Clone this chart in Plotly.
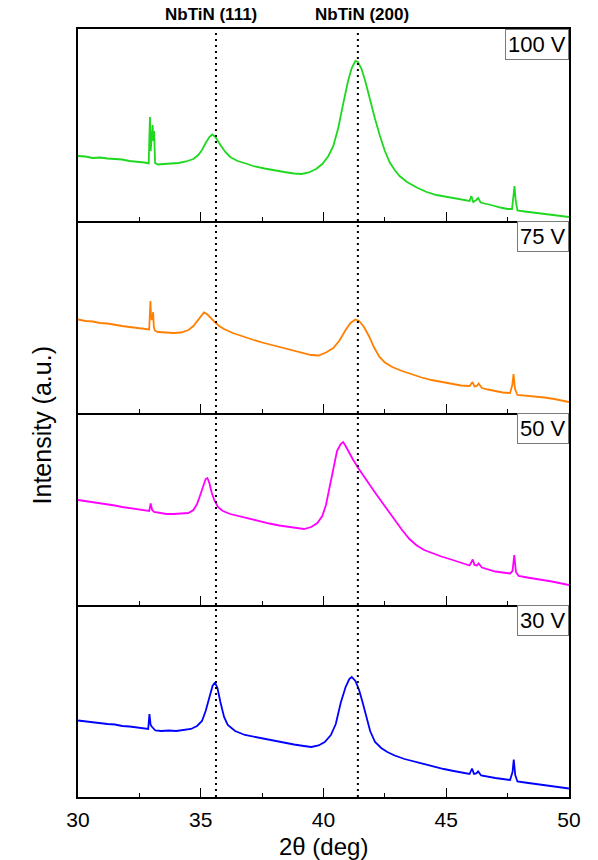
import plotly.graph_objects as go
from plotly.subplots import make_subplots

# ---------------- data (intensity, arbitrary units) ----------------
x_100 = [30.0, 30.3, 30.6, 30.9, 31.2, 31.5, 31.8, 32.1, 32.4, 32.7, 32.88, 32.93, 32.96, 33.0, 33.04,
         33.07, 33.1, 33.14, 33.25, 33.5, 33.8, 34.1, 34.4, 34.7, 34.9, 35.05, 35.2, 35.35, 35.47, 35.6,
         35.8, 36.0, 36.2, 36.5, 36.9, 37.2, 37.6, 38.0, 38.4, 38.8, 39.1, 39.4, 39.7, 39.95, 40.2, 40.4,
         40.6, 40.8, 41.0, 41.15, 41.3, 41.4, 41.55, 41.7, 41.88, 42.1, 42.3, 42.5, 42.7, 42.9, 43.1, 43.4,
         43.8, 44.2, 44.6, 45.0, 45.4, 45.8, 45.95, 46.02, 46.1, 46.22, 46.3, 46.4, 46.6, 46.9, 47.2, 47.5,
         47.68, 47.74, 47.78, 47.83, 47.9, 48.2, 48.5, 48.8, 49.1, 49.4, 49.7, 50.0]
i_100 = [65, 64.5, 63, 63.5, 62.5, 62, 61.5, 60, 59.5, 58.5, 57.5, 104, 70, 88, 96,
         80, 90, 58, 56.5, 57, 57.5, 58, 59.5, 62, 66, 71, 78, 84, 86.5, 84,
         76, 69, 64, 60, 57, 54.5, 52.5, 50.5, 49, 47.5, 47, 48.5, 52, 57, 65, 75,
         93, 117, 140, 153, 160, 159, 152, 140, 122, 102, 85, 70, 58.5, 51, 45, 39,
         33.5, 29, 26, 24, 22, 20, 20, 25, 19, 21, 23, 18.5, 17, 15.5, 13.5, 12,
         12, 28, 35, 20, 10.5, 9.5, 8.5, 7.5, 6.5, 6, 5, 4]

x_75 = [30.0, 30.3, 30.6, 30.9, 31.2, 31.5, 31.8, 32.1, 32.4, 32.7, 32.9, 32.95, 32.98, 33.02, 33.06,
        33.09, 33.13, 33.25, 33.6, 33.9, 34.2, 34.5, 34.7, 34.9, 35.0, 35.13, 35.25, 35.4, 35.55, 35.75,
        35.95, 36.3, 36.7, 37.1, 37.5, 37.9, 38.3, 38.7, 39.1, 39.5, 39.8, 40.1, 40.4, 40.65, 40.9, 41.1,
        41.3, 41.45, 41.65, 41.87, 42.05, 42.28, 42.5, 42.8, 43.2, 43.6, 44.0, 44.4, 44.8, 45.2, 45.6,
        45.95, 46.07, 46.15, 46.25, 46.32, 46.45, 46.7, 47.0, 47.3, 47.6, 47.69, 47.74, 47.8, 47.9, 48.2,
        48.6, 49.0, 49.4, 49.7, 50.0]
i_75 = [93.5, 92, 91.5, 90, 89.5, 88, 87, 86, 85, 84, 83.5, 112, 95, 93, 101,
        86, 82.5, 81, 80.5, 80, 80.5, 83, 87, 93, 97, 100.5, 99, 95, 91.5, 87,
        84, 80, 76.5, 73.5, 70.5, 68, 65.5, 63, 60.5, 58, 57.5, 60.5, 65, 72.5, 83, 90,
        93.5, 92, 86, 76, 66, 56, 50.5, 46, 42, 38.5, 35.5, 33, 31, 29, 27.5,
        27, 31, 26.5, 27, 29.5, 25, 23.5, 22, 20.5, 20, 28, 39, 24, 18, 17.5,
        16.5, 15.5, 14, 12.5, 11]

x_50 = [30.0, 30.3, 30.6, 30.9, 31.2, 31.5, 31.8, 32.1, 32.4, 32.7, 32.9, 32.96, 33.02, 33.1, 33.3,
        33.6, 33.9, 34.2, 34.5, 34.7, 34.85, 34.98, 35.1, 35.2, 35.27, 35.35, 35.45, 35.55, 35.7, 35.9,
        36.2, 36.6, 37.0, 37.4, 37.8, 38.2, 38.6, 38.9, 39.2, 39.5, 39.75, 39.95, 40.1, 40.25, 40.4,
        40.55, 40.7, 40.8, 40.9, 41.05, 41.2, 41.4, 41.6, 41.8, 42.0, 42.2, 42.45, 42.7, 42.95, 43.2,
        43.5, 43.8, 44.1, 44.4, 44.8, 45.2, 45.6, 45.95, 46.08, 46.15, 46.25, 46.32, 46.45, 46.7, 47.0,
        47.3, 47.6, 47.7, 47.77, 47.84, 47.95, 48.3, 48.6, 49.0, 49.3, 49.6, 50.0]
i_50 = [105, 104, 102.5, 101.5, 100.5, 99.5, 98, 97, 95.5, 94.5, 94, 101.5, 95, 93, 92,
        91, 91, 91.5, 92, 95, 101, 110, 120, 126, 127, 122, 112, 105, 98, 94,
        91, 88.5, 86.5, 84, 81.5, 79.5, 78, 76.5, 76, 78, 82, 89, 100, 118, 138,
        154, 161, 163, 159, 152, 145.5, 137.5, 130, 123, 116, 109, 100.5, 92, 83, 75,
        66, 59.5, 55, 52, 48.5, 45.5, 42, 39.5, 45.5, 40, 39.5, 41.5, 37.5, 35.5, 33.5,
        32.5, 31.5, 34, 50, 33, 29, 27.5, 26.5, 25, 23.5, 22, 20]

x_30 = [30.0, 30.3, 30.6, 30.9, 31.2, 31.5, 31.8, 32.1, 32.4, 32.7, 32.86, 32.91, 32.96, 33.02, 33.15,
        33.4, 33.7, 34.0, 34.3, 34.6, 34.85, 35.05, 35.2, 35.35, 35.48, 35.58, 35.68, 35.8, 35.95, 36.1,
        36.4, 36.8, 37.2, 37.6, 38.0, 38.4, 38.8, 39.2, 39.5, 39.8, 40.05, 40.3, 40.5, 40.7, 40.9, 41.05,
        41.15, 41.3, 41.45, 41.6, 41.75, 41.9, 42.1, 42.35, 42.6, 42.9, 43.3, 43.7, 44.1, 44.5, 44.9,
        45.3, 45.7, 45.95, 46.05, 46.13, 46.22, 46.3, 46.42, 46.7, 47.0, 47.3, 47.6, 47.7, 47.75, 47.81,
        47.9, 48.2, 48.5, 48.8, 49.1, 49.4, 49.7, 50.0]
i_30 = [76.5, 75.5, 74.5, 74, 73, 72.5, 71, 70.5, 69.5, 68.5, 68, 83, 72, 70, 66.5,
        66, 66.5, 66, 67, 68, 71, 76, 86, 100, 111, 114.5, 109, 95, 80, 72,
        66, 62, 60, 58, 56, 54, 52.5, 51, 50, 51.5, 55, 62, 73, 94, 110, 118,
        120, 116, 107, 94, 79, 66, 55, 49, 45, 41.5, 38, 35.5, 32.5, 30, 28,
        26, 24, 23, 28.5, 23, 23.5, 25.5, 21.5, 20, 19, 18, 17, 25, 37.5, 22,
        15.5, 14.5, 13.5, 13, 12, 11, 10, 8.5]

panel_labels = ["100 V", "75 V", "50 V", "30 V"]
ref_peaks = [35.62, 41.40]
ref_labels = ["NbTiN (111)", "NbTiN (200)"]
ref_label_pos = [35.40, 41.55]
x_ticks = [30, 35, 40, 45, 50]

# ---------------- figure ----------------
colors = ["#1ed81e", "#ff8000", "#ff00ff", "#0000ff"]
xs = [x_100, x_75, x_50, x_30]
ys = [i_100, i_75, i_50, i_30]

FONT = "Liberation Sans, Arial, sans-serif"
fig = make_subplots(rows=4, cols=1, shared_xaxes=True, vertical_spacing=0)

for r in range(4):
    fig.add_trace(go.Scatter(x=xs[r], y=ys[r], mode="lines",
                             line=dict(color=colors[r], width=1.8),
                             showlegend=False, hoverinfo="skip"),
                  row=r + 1, col=1)

for r in range(1, 5):
    fig.update_xaxes(range=[30, 50], showline=True, linecolor="black", linewidth=1.5,
                     mirror=(r == 1), ticks="inside", ticklen=9, tickwidth=1.2, tickcolor="black",
                     tickvals=x_ticks, showgrid=False, zeroline=False,
                     minor=dict(ticks="inside", ticklen=4, tickwidth=1.2, tickcolor="black",
                                dtick=2.5, tick0=30, showgrid=False),
                     tickfont=dict(family=FONT, size=21, color="black"),
                     row=r, col=1)
    fig.update_yaxes(range=[0, 192], showline=True, linecolor="black", linewidth=1.5,
                     mirror=True, ticks="", showticklabels=False, showgrid=False,
                     zeroline=False, row=r, col=1)

fig.update_xaxes(showticklabels=True, ticklabelstandoff=3, row=4, col=1)

shapes = []
for xp in ref_peaks:
    shapes.append(dict(type="line", xref="x4", yref="paper", x0=xp, x1=xp, y0=0, y1=1,
                       line=dict(color="black", width=2, dash="2px,4px")))

annotations = []
for xp, txt in zip(ref_label_pos, ref_labels):
    annotations.append(dict(x=xp, xref="x4", y=1, yref="paper", yanchor="middle", yshift=15,
                            text="<b>" + txt + "</b>", showarrow=False,
                            font=dict(family=FONT, size=17, color="black")))
for r, lab in enumerate(panel_labels, start=1):
    yref = "y domain" if r == 1 else f"y{r} domain"
    annotations.append(dict(x=1, xref="paper", xanchor="right", y=1, yref=yref, yanchor="top",
                            text=lab, showarrow=False, bgcolor="white", bordercolor="#7a7a7a",
                            borderwidth=1, borderpad=2,
                            font=dict(family=FONT, size=22, color="black")))
annotations.append(dict(x=-0.073, xref="paper", y=0.484, yref="paper", xanchor="center",
                        yanchor="middle", textangle=-90, text="Intensity (a.u.)",
                        showarrow=False, font=dict(family=FONT, size=25, color="black")))
annotations.append(dict(x=0.5, xref="paper", y=-0.065, yref="paper", xanchor="center",
                        yanchor="middle", text="2θ (deg)", showarrow=False,
                        font=dict(family=FONT, size=24, color="black")))

fig.update_layout(width=598, height=860, margin=dict(l=78, r=29, t=29, b=63),
                  plot_bgcolor="white", paper_bgcolor="white",
                  shapes=shapes, annotations=annotations, showlegend=False)

fig.write_html("out.html")
